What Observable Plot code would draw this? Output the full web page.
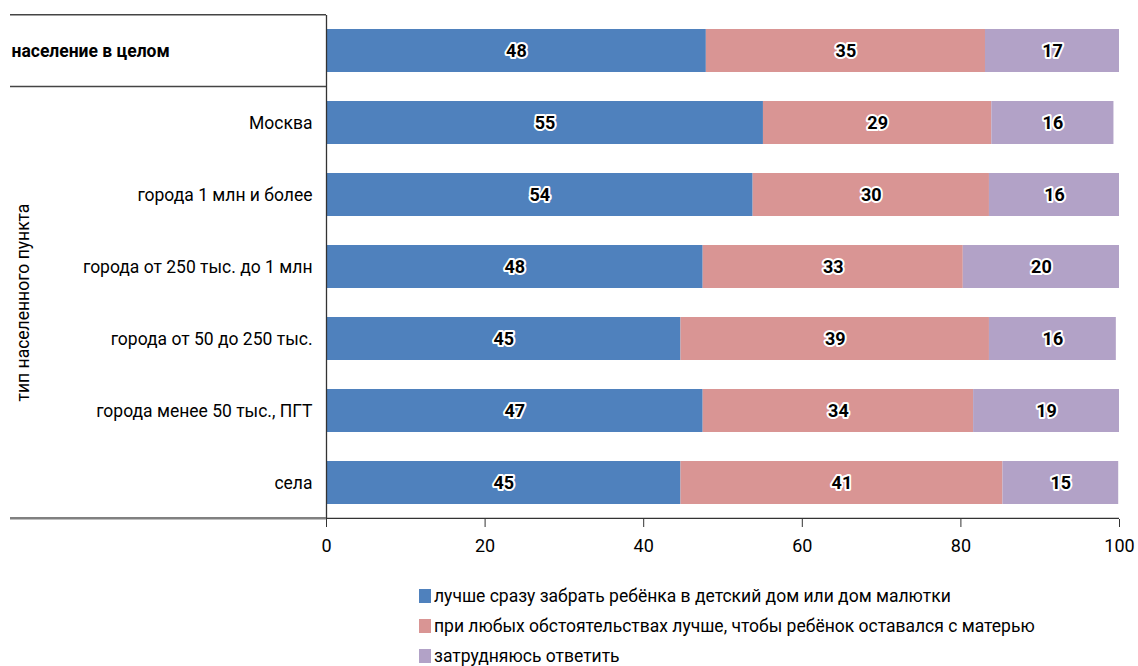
<!DOCTYPE html>
<html>
<head>
<meta charset="utf-8">
<script src="https://cdn.jsdelivr.net/npm/d3@7"></script>
<script src="https://cdn.jsdelivr.net/npm/@observablehq/plot@0.6"></script>
<style>
  body { margin: 0; background: #fff; font-family: Roboto, sans-serif; }
  #legend { margin-left: 419px; margin-top: 11px; font-size: 17.5px; color: #000; }
  #legend .row { height: 30px; display: flex; align-items: center; }
  #legend .sw { width: 12px; height: 14px; margin-right: 3px; flex: none; }
</style>
</head>
<body>
<div id="chart"></div>
<div id="legend"></div>
<script>
const categories = ["население в целом", "Москва", "города 1 млн и более", "города от 250 тыс. до 1 млн", "города от 50 до 250 тыс.", "города менее 50 тыс., ПГТ", "села"];
const seriesNames = ["лучше сразу забрать ребёнка в детский дом или дом малютки", "при любых обстоятельствах лучше, чтобы ребёнок оставался с матерью", "затрудняюсь ответить"];
const seriesColors = ["#4f81bd", "#d99594", "#b2a2c7"];
const blueValues = [47.9, 55.1, 53.8, 47.5, 44.7, 47.5, 44.7];
const pinkValues = [35.2, 28.8, 29.8, 32.8, 38.9, 34.1, 40.6];
const purpleValues = [16.9, 15.4, 16.4, 19.7, 16.0, 18.4, 14.6];
const blueLabels = [48, 55, 54, 48, 45, 47, 45];
const pinkLabels = [35, 29, 30, 33, 39, 34, 41];
const purpleLabels = [17, 16, 16, 20, 16, 19, 15];
const xTicks = [0, 20, 40, 60, 80, 100];
const axisTitle = "тип населенного пункта";

const valueSets = [blueValues, pinkValues, purpleValues];
const labelSets = [blueLabels, pinkLabels, purpleLabels];
const rows = [];
categories.forEach((c, i) => {
  seriesNames.forEach((s, j) => {
    rows.push({category: c, series: s, value: valueSets[j][i], label: labelSets[j][i]});
  });
});

const font = 'Roboto, sans-serif';
const W = 1138, H = 570, ML = 326, MR = 19, MT = 15, MB = 51;

const plot = Plot.plot({
  width: W, height: H,
  marginLeft: ML, marginRight: MR, marginTop: MT, marginBottom: MB,
  style: {fontFamily: font, fontSize: "17.5px", color: "#000", background: "#fff"},
  x: {domain: [0, 100], axis: null},
  y: {domain: categories, paddingInner: 0.4, paddingOuter: 0.2, axis: null},
  color: {domain: seriesNames, range: seriesColors},
  marks: [
    Plot.barX(rows, Plot.stackX({y: "category", x: "value", fill: "series"})),
    Plot.text(rows, Plot.stackX({y: "category", x: "value", z: "series", text: "label",
      fill: "#000", stroke: "#fff", strokeWidth: 4, fontWeight: "bold", fontSize: 18})),
    Plot.ruleX([0], {stroke: "#333", strokeWidth: 1.3}),
    Plot.axisX({ticks: xTicks, tickSize: 8, tickPadding: 12, fontSize: 18, stroke: "#333", label: null}),
    Plot.axisY({tickSize: 0, tickPadding: 14, fontSize: 17.5, label: null, tickFormat: d => d === categories[0] ? "" : d}),
    Plot.text([categories[0]], {y: d => d, frameAnchor: "left", dx: -315, textAnchor: "start", fontWeight: "bold", fontSize: 17.5})
  ]
});

document.getElementById("chart").appendChild(plot);

// decorative table lines on the left, positioned from the y scale
const ys = plot.scale("y");
const bw = ys.bandwidth;
const step = bw / (1 - 0.4);
const yTop = ys.apply(categories[0]) - 0.2 * step;
const yBottom = ys.apply(categories[categories.length - 1]) + bw + 0.2 * step;
const ySep = (ys.apply(categories[0]) + bw + ys.apply(categories[1])) / 2;
const svg = d3.select(plot);
const g = svg.append("g");
g.append("line").attr("x1", 10).attr("x2", ML).attr("y1", yTop).attr("y2", yTop).attr("stroke", "#444").attr("stroke-width", 1.5);
g.append("line").attr("x1", 10).attr("x2", ML).attr("y1", ySep).attr("y2", ySep).attr("stroke", "#444").attr("stroke-width", 1.5);
g.append("line").attr("x1", 10).attr("x2", ML).attr("y1", yBottom).attr("y2", yBottom).attr("stroke", "#808080").attr("stroke-width", 2.5);
g.append("line").attr("x1", ML).attr("x2", W - MR).attr("y1", yBottom).attr("y2", yBottom).attr("stroke", "#333").attr("stroke-width", 1.3);
const yMid = (ys.apply(categories[1]) + ys.apply(categories[categories.length - 1]) + bw) / 2;
g.append("text").attr("transform", `translate(29,${yMid}) rotate(-90)`)
  .attr("text-anchor", "middle").attr("font-size", 17.5).attr("fill", "#000").text(axisTitle);

// legend
const legend = d3.select("#legend");
seriesNames.forEach((s, j) => {
  const r = legend.append("div").attr("class", "row");
  r.append("div").attr("class", "sw").style("background", seriesColors[j]);
  r.append("span").text(s);
});
</script>
</body>
</html>
